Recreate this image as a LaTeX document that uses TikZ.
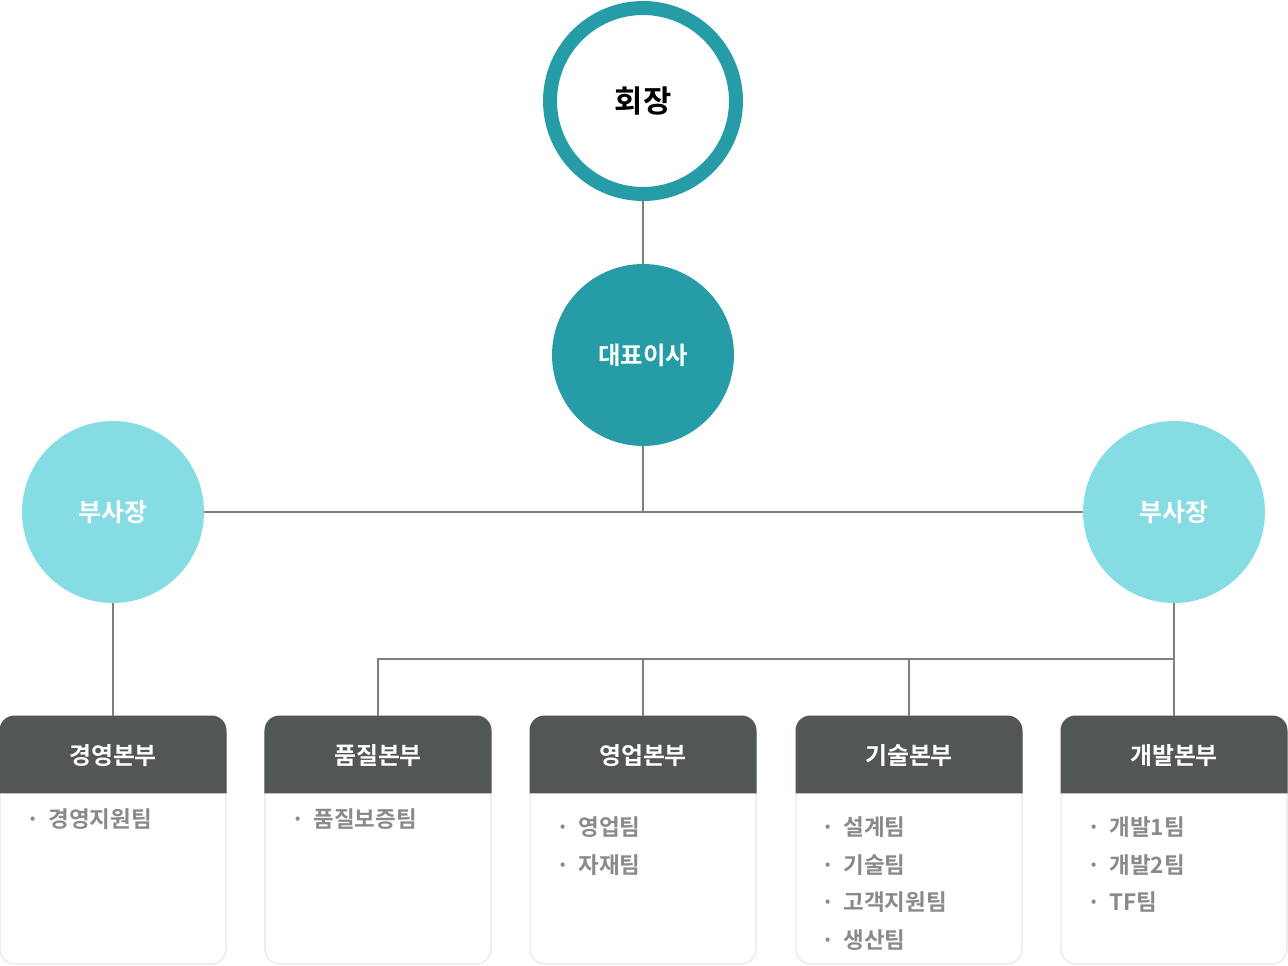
\documentclass[tikz,border=0pt]{standalone}
\usepackage{fontspec}
\setmainfont{Noto Sans CJK KR}[BoldFont={Noto Sans CJK KR Bold}]
\definecolor{teal1}{HTML}{259CA6}
\definecolor{cyan1}{HTML}{85DCE3}
\definecolor{hdr}{HTML}{525657}
\definecolor{itemgray}{HTML}{8A8A8A}
\definecolor{linegray}{HTML}{7F7F7F}
\definecolor{bordergray}{HTML}{E6E6E6}
\begin{document}
\begin{tikzpicture}[x=0.02cm,y=-0.02cm,
  conn/.style={draw=linegray,line width=0.04cm},
  chair/.style={circle,draw=teal1,line width=0.28cm,fill=white,minimum size=3.72cm,inner sep=0pt,font=\fontsize{17.5}{20}\selectfont\bfseries,text=black},
  ceo/.style={circle,fill=teal1,minimum size=3.64cm,inner sep=0pt,font=\fontsize{13.9}{16}\selectfont\bfseries,text=white},
  vp/.style={circle,fill=cyan1,minimum size=3.64cm,inner sep=0pt,font=\fontsize{14.2}{16}\selectfont\bfseries,text=white},
  body/.style={rectangle,rounded corners=0.3cm,draw=bordergray,line width=0.6pt,fill=white,minimum width=4.52cm,minimum height=4.96cm,inner sep=0pt},
  hdrtext/.style={font=\fontsize{13.6}{16}\selectfont\bfseries,text=white},
  item/.style={anchor=west,inner sep=0pt,font=\fontsize{12.8}{15}\selectfont\bfseries,text=itemgray},
]
\useasboundingbox (0,0) rectangle (1288,966);

% circles
\node[chair] (chair) at (643,101) {회장};
\node[ceo] (ceo) at (643,355) {대표이사};
\node[vp] (vpl) at (113,512) {부사장};
\node[vp] (vpr) at (1174,512) {부사장};

% boxes
\foreach \n/\x in {1/113,2/378,3/643,4/909,5/1174}{
  \node[body] (b\n) at (\x,840) {};
  \fill[hdr] ([yshift=-1.56cm]b\n.north west) [rounded corners=0.3cm] -- (b\n.north west) -- (b\n.north east) [sharp corners] -- ([yshift=-1.56cm]b\n.north east) -- cycle;
}
\node[hdrtext] (h1) at (113,756) {경영본부};
\node[hdrtext] (h2) at (378,756) {품질본부};
\node[hdrtext] (h3) at (643,756) {영업본부};
\node[hdrtext] (h4) at (909,756) {기술본부};
\node[hdrtext] (h5) at (1174,756) {개발본부};

% items
\newcommand{\itm}[1]{\makebox[0.44cm][l]{·}#1}
\node[item] (i11) at (26,819) {\itm{경영지원팀}};
\node[item] (i21) at (291,819) {\itm{품질보증팀}};
\node[item] (i31) at (556,827) {\itm{영업팀}};
\node[item] (i32) at (556,865) {\itm{자재팀}};
\node[item] (i41) at (821,827) {\itm{설계팀}};
\node[item] (i42) at (821,865) {\itm{기술팀}};
\node[item] (i43) at (821,902) {\itm{고객지원팀}};
\node[item] (i44) at (821,940) {\itm{생산팀}};
\node[item] (i51) at (1087,827) {\itm{개발1팀}};
\node[item] (i52) at (1087,865) {\itm{개발2팀}};
\node[item] (i53) at (1087,902) {\itm{TF팀}};

% connectors
\coordinate (j1) at (643,512);
\coordinate (j2) at (1174,659);
\coordinate (j3) at (378,659);
\draw[conn] (chair.south) -- (ceo.north);
\draw[conn] (ceo.south) -- (j1);
\draw[conn] (vpl.east) -- (vpr.west);
\draw[conn] (vpl.south) -- (b1.north);
\draw[conn] (vpr.south) -- (j2) -- (j3) -- (b2.north);
\draw[conn] (b3.north) -- (b3.north |- j2);
\draw[conn] (b4.north) -- (b4.north |- j2);
\draw[conn] (b5.north) -- (j2);
\end{tikzpicture}
\end{document}
